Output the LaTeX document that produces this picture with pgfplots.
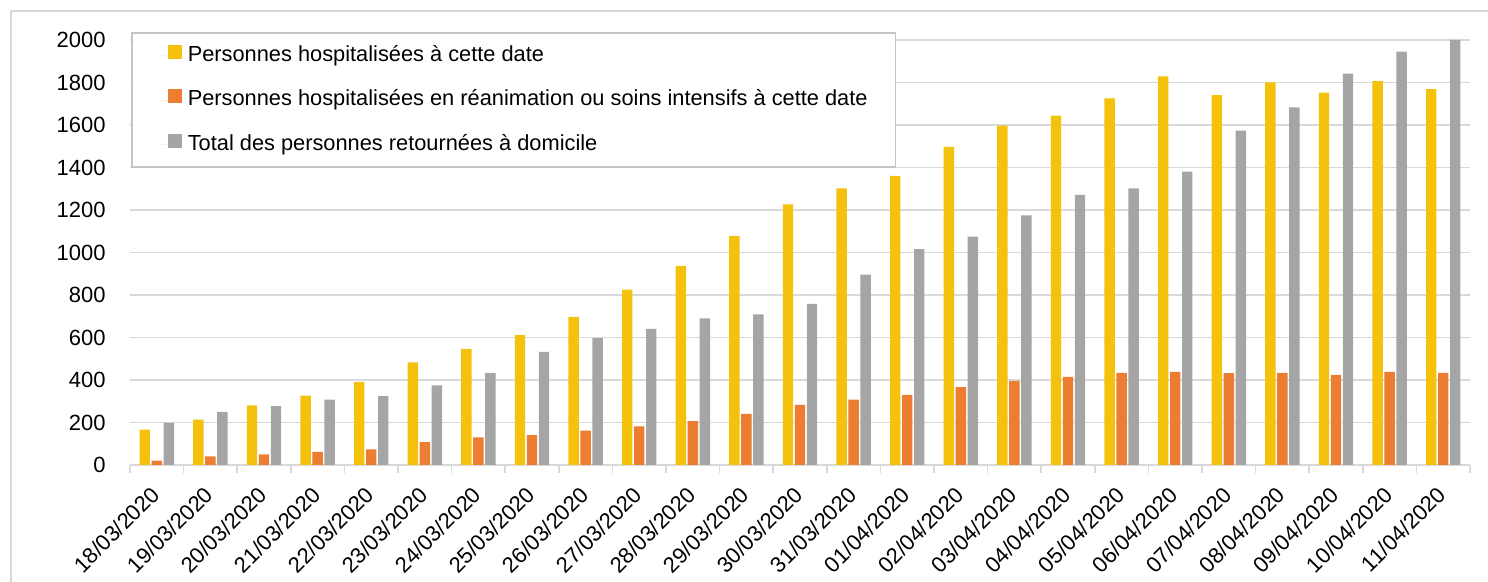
\documentclass[border=0pt]{standalone}
\usepackage{fontspec}
\setmainfont{Liberation Sans}
\usepackage{pgfplots}
\pgfplotsset{compat=1.18}
\usepackage{pgfplotstable}
\definecolor{hosp}{HTML}{F4C20D}
\definecolor{rea}{HTML}{ED7D31}
\definecolor{ret}{HTML}{A5A5A5}
\definecolor{gridgray}{HTML}{D9D9D9}
\definecolor{leggray}{HTML}{C4C4C4}

\pgfplotstableread{
x hosp rea ret
0 166 20 198
1 214 40 250
2 281 50 277
3 327 62 308
4 390 73 324
5 483 108 375
6 546 130 433
7 611 140 532
8 697 162 597
9 825 182 641
10 937 206 690
11 1078 240 709
12 1226 283 758
13 1302 308 896
14 1361 330 1016
15 1497 367 1075
16 1597 396 1175
17 1644 415 1271
18 1725 434 1302
19 1829 438 1381
20 1741 432 1573
21 1801 433 1683
22 1752 424 1842
23 1807 438 1945
24 1769 433 2000
}\data

\begin{document}
\begin{tikzpicture}
\useasboundingbox (-65pt,-58.5pt) rectangle (679pt,232.5pt);
\draw[gridgray, line width=0.75pt] (-59.5pt,-60pt) -- (-59.5pt,227pt) -- (690pt,227pt);
\begin{axis}[
  at={(0pt,0pt)}, anchor=south west,
  scale only axis,
  width=670pt, height=212.5pt,
  xmin=-0.5, xmax=24.5,
  ymin=0, ymax=2000,
  ybar=0.8pt, bar width=5.2pt,
  ytick={0,200,...,2000},
  xtick={0,...,24},
  xticklabels={18/03/2020,19/03/2020,20/03/2020,21/03/2020,22/03/2020,23/03/2020,24/03/2020,25/03/2020,26/03/2020,27/03/2020,28/03/2020,29/03/2020,30/03/2020,31/03/2020,01/04/2020,02/04/2020,03/04/2020,04/04/2020,05/04/2020,06/04/2020,07/04/2020,08/04/2020,09/04/2020,10/04/2020,11/04/2020},
  minor xtick={-0.5,0.5,...,24.5},
  major tick length=0pt,
  minor tick length=4pt,
  tick align=outside,
  minor tick style={gridgray, line width=0.75pt},
  ytick style={draw=none},
  axis x line*=bottom,
  axis y line*=left,
  y axis line style={draw=none},
  x axis line style={gridgray, line width=0.75pt, -},
  ymajorgrids,
  grid style={gridgray, line width=0.75pt},
  /pgf/number format/assume math mode=true,
  /pgf/number format/1000 sep={},
  tick label style={font=\fontsize{11}{13}\selectfont, text=black},
  yticklabel style={inner sep=0pt, xshift=-12pt},
  xticklabel style={inner sep=0pt, rotate=45, anchor=north east, xshift=-9.44pt, yshift=-4.36pt},
  legend style={
    at={(rel axis cs:0,1)}, anchor=north west, xshift=0.5pt, yshift=3.85pt,
    draw=leggray, line width=0.8pt, fill=white,
    inner xsep=14pt, inner ysep=6pt,
    row sep=11.5pt, column sep=3pt,
    font=\fontsize{10.9}{13}\selectfont,
    nodes={inner sep=0pt, text height=8pt, text depth=2.5pt},
  },
  legend cell align=left,
  legend image code/.code={%
    \path (0pt,0pt) -- (4pt,0pt);
    \fill[#1, draw=none] (4pt,-1.55pt) rectangle (11pt,5.45pt);
  },
  clip=false,
]
\addplot[fill=hosp, draw=none] table[x=x, y=hosp] {\data};
\addplot[fill=rea, draw=none] table[x=x, y=rea] {\data};
\addplot[fill=ret, draw=none] table[x=x, y=ret] {\data};
\legend{Personnes hospitalisées à cette date,
Personnes hospitalisées en réanimation ou soins intensifs à cette date,
Total des personnes retournées à domicile}
\end{axis}
\end{tikzpicture}
\end{document}
